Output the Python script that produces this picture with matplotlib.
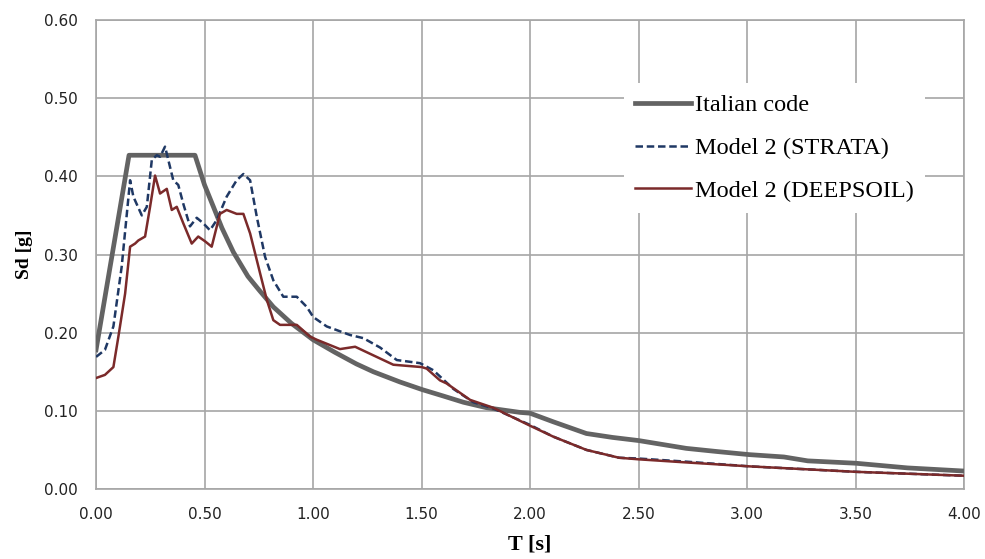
import matplotlib.pyplot as plt

# periods [s] and spectral displacement [g]
t_code = [0.00, 0.152, 0.456, 0.50, 0.541, 0.58, 0.633, 0.70, 0.75, 0.817, 0.90, 1.00, 1.10,
          1.20, 1.278, 1.40, 1.505, 1.60, 1.693, 1.80, 1.954, 2.00, 2.107, 2.26, 2.38, 2.50,
          2.72, 2.86, 3.01, 3.17, 3.28, 3.50, 3.74, 4.00]
sd_code = [0.178, 0.427, 0.427, 0.389, 0.361, 0.334, 0.303, 0.272, 0.255, 0.233, 0.212, 0.191,
           0.175, 0.160, 0.150, 0.137, 0.127, 0.119, 0.111, 0.104, 0.098, 0.097, 0.086, 0.071,
           0.066, 0.062, 0.052, 0.048, 0.044, 0.041, 0.036, 0.033, 0.027, 0.023]

t_strata = [0.00, 0.041, 0.080, 0.118, 0.157, 0.172, 0.211, 0.234, 0.257, 0.280, 0.295, 0.318,
            0.333, 0.356, 0.379, 0.402, 0.433, 0.464, 0.494, 0.525, 0.556, 0.602, 0.648, 0.679,
            0.710, 0.741, 0.779, 0.817, 0.863, 0.925, 0.971, 1.001, 1.063, 1.171, 1.232, 1.309,
            1.386, 1.493, 1.554, 1.647, 1.739, 1.831, 2.00, 2.107, 2.26, 2.41, 2.50, 2.72,
            3.01, 3.50, 4.00]
sd_strata = [0.169, 0.178, 0.208, 0.284, 0.395, 0.374, 0.350, 0.361, 0.421, 0.427, 0.425, 0.438,
             0.421, 0.395, 0.389, 0.365, 0.336, 0.347, 0.340, 0.331, 0.344, 0.374, 0.395, 0.403,
             0.395, 0.348, 0.297, 0.267, 0.246, 0.246, 0.233, 0.220, 0.208, 0.197, 0.193, 0.181,
             0.165, 0.161, 0.152, 0.128, 0.111, 0.103, 0.082, 0.067, 0.050, 0.040, 0.039, 0.035,
             0.029, 0.022, 0.017]

t_deep = [0.00, 0.041, 0.080, 0.103, 0.134, 0.157, 0.180, 0.195, 0.226, 0.249, 0.272, 0.295,
          0.326, 0.349, 0.372, 0.402, 0.441, 0.471, 0.502, 0.533, 0.571, 0.602, 0.648, 0.679,
          0.710, 0.756, 0.787, 0.817, 0.848, 0.925, 0.986, 1.017, 1.124, 1.194, 1.278, 1.370,
          1.501, 1.524, 1.585, 1.616, 1.724, 1.83, 2.00, 2.107, 2.26, 2.41, 2.50, 2.72,
          3.01, 3.50, 4.00]
sd_deep = [0.142, 0.146, 0.156, 0.195, 0.250, 0.310, 0.314, 0.318, 0.323, 0.361, 0.401, 0.378,
           0.384, 0.357, 0.361, 0.340, 0.314, 0.323, 0.317, 0.310, 0.352, 0.357, 0.352, 0.352,
           0.327, 0.276, 0.242, 0.216, 0.210, 0.210, 0.195, 0.191, 0.179, 0.182, 0.171, 0.159,
           0.156, 0.154, 0.139, 0.135, 0.114, 0.104, 0.081, 0.067, 0.050, 0.040, 0.038, 0.034,
           0.029, 0.022, 0.017]

xticks = [0.0, 0.5, 1.0, 1.5, 2.0, 2.5, 3.0, 3.5, 4.0]
yticks = [0.0, 0.1, 0.2, 0.3, 0.4, 0.5, 0.6]

fig = plt.figure(figsize=(9.85, 5.59), dpi=100)
ax = fig.add_axes([0.0975, 0.1252, 0.8812, 0.839])

ax.plot(t_code, sd_code, color='#636363', lw=3.4, label='Italian code', zorder=3,
        solid_joinstyle='round')
ax.plot(t_strata, sd_strata, color='#1F3864', lw=1.8, ls=(0, (3, 1.5)), label='Model 2 (STRATA)', zorder=4)
ax.plot(t_deep, sd_deep, color='#7B2A2A', lw=1.8, label='Model 2 (DEEPSOIL)', zorder=5)

ax.set_xlim(0, 4)
ax.set_ylim(0, 0.6)
ax.set_xticks(xticks)
ax.set_yticks(yticks)
ax.set_xticklabels(['%.2f' % v for v in xticks])
ax.set_yticklabels(['%.2f' % v for v in yticks])
ax.tick_params(length=0, pad=13, labelsize=11, labelcolor='#222222')
ax.grid(True, color='#A6A6A6', lw=1.2)
ax.set_axisbelow(True)
for s in ax.spines.values():
    s.set_color('#A6A6A6')
    s.set_linewidth(1.2)

ax.set_xlabel('T [s]', family='Liberation Serif', fontweight='bold', fontsize=16, labelpad=9)
ax.set_ylabel('Sd [g]', family='Liberation Serif', fontweight='bold', fontsize=14, labelpad=8)

leg = ax.legend(loc='center left', bbox_to_anchor=(0.594, 0.727), frameon=True,
                prop={'family': 'Liberation Serif', 'size': 17.5}, handlelength=2.3,
                handletextpad=0.2, labelspacing=0.85, borderpad=0.45)
leg.get_frame().set_facecolor('white')
leg.get_frame().set_edgecolor('none')
leg.get_frame().set_alpha(1)

fig.savefig('out.png', dpi=100)
